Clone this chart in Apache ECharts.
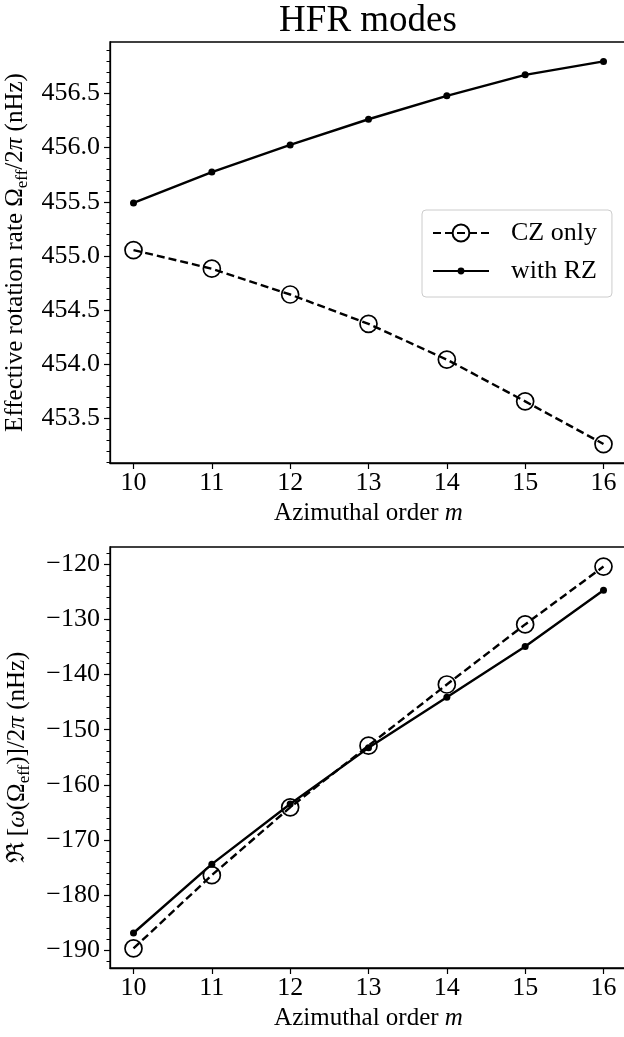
<!DOCTYPE html>
<html><head><meta charset="utf-8">
<script src="https://cdn.jsdelivr.net/npm/echarts@6/dist/echarts.min.js"></script>
<style>html,body{margin:0;padding:0;background:#fff}#c{width:624px;height:1037px}</style>
</head><body><div id="c"></div>
<script>
// ---- data ----
const mValues = [10, 11, 12, 13, 14, 15, 16];
const omegaCZ = [455.055, 454.883, 454.645, 454.374, 454.044, 453.659, 453.265];
const omegaRZ = [455.490, 455.775, 456.025, 456.262, 456.478, 456.672, 456.796];
const reCZ = [-189.7, -176.4, -164.1, -152.9, -141.8, -130.9, -120.4];
const reRZ = [-186.9, -174.4, -163.5, -153.3, -144.1, -134.9, -124.7];
const xTicks = [10, 11, 12, 13, 14, 15, 16];
const topTicks = [453.5, 454.0, 454.5, 455.0, 455.5, 456.0, 456.5];
const botTicks = [-190, -180, -170, -160, -150, -140, -130, -120];
const seriesNames = ['CZ only', 'with RZ'];
const titleText = 'HFR modes';

// ---- helpers ----
const FONT = 'Liberation Serif';
function minors(lo, hi, step, majors) {
  const out = [];
  const n0 = Math.ceil(lo / step - 1e-9), n1 = Math.floor(hi / step + 1e-9);
  for (let k = n0; k <= n1; k++) {
    const v = +(k * step).toFixed(6);
    if (!majors.some(t => Math.abs(t - v) < 1e-6)) out.push(v);
  }
  return out;
}
const pairs = (xs, ys) => xs.map((x, i) => [x, ys[i]]);
const topRange = [453.09, 456.975];
const botRange = [-193.25, -116.85];
const xRange = [9.7, 16.3];
const topMinor = minors(topRange[0], topRange[1], 0.1, topTicks);
const botMinor = minors(botRange[0], botRange[1], 2, botTicks);

const NAME_FS = 25;
const YNAME_FS = 25;
function richFor(fs) {
  return {
    n: {fontFamily: FONT, fontSize: fs, color: '#000'},
    i: {fontFamily: FONT, fontSize: fs, fontStyle: 'italic', color: '#000'},
    s: {fontFamily: FONT, fontSize: Math.round(fs * 0.66), color: '#000', padding: [Math.round(fs * 0.56), 0, 0, 0]}
  };
}
const minus = v => (v < 0 ? '\u2212' : '') + Math.abs(v);
const TICK_FS = 26;

function xAxis(gi) {
  return {
    type: 'value', gridIndex: gi, min: xRange[0], max: xRange[1],
    name: '{n|Azimuthal order }{i|m}', nameLocation: 'middle', nameGap: 38,
    nameTextStyle: {rich: richFor(NAME_FS)},
    axisLine: {show: true, lineStyle: {color: '#000', width: 1.3}},
    axisTick: {show: true, inside: false, length: 6, lineStyle: {color: '#000', width: 1.2}, customValues: xTicks},
    axisLabel: {show: true, margin: 7, fontFamily: FONT, fontSize: TICK_FS, color: '#000', customValues: xTicks},
    splitLine: {show: false}
  };
}
function yMain(gi, range, ticks, fmt, name) {
  return {
    type: 'value', gridIndex: gi, min: range[0], max: range[1], position: 'left',
    name: name, nameLocation: 'middle', nameRotate: 90, nameGap: 77,
    nameTextStyle: {rich: richFor(YNAME_FS)},
    axisLine: {show: true, lineStyle: {color: '#000', width: 1.3}},
    axisTick: {show: true, inside: false, length: 6, lineStyle: {color: '#000', width: 1.2}, customValues: ticks},
    axisLabel: {show: true, margin: 10, fontFamily: FONT, fontSize: TICK_FS, color: '#000', customValues: ticks, formatter: fmt},
    splitLine: {show: false}
  };
}
function yMinor(gi, range, vals) {
  return {
    type: 'value', gridIndex: gi, min: range[0], max: range[1], position: 'left', offset: 0,
    axisLine: {show: false},
    axisTick: {show: true, inside: false, length: 3.5, lineStyle: {color: '#000', width: 1}, customValues: vals},
    axisLabel: {show: false},
    splitLine: {show: false}
  };
}
function czSeries(xi, yi, ys) {
  return {
    name: seriesNames[0], type: 'line', xAxisIndex: xi, yAxisIndex: yi,
    data: pairs(mValues, ys), symbol: 'circle', symbolSize: 17,
    lineStyle: {color: '#000', width: 2.4, type: [8, 4]},
    itemStyle: {color: 'rgba(255,255,255,0)', borderColor: '#000', borderWidth: 1.7},
    emphasis: {disabled: true}, animation: false, z: 3
  };
}
function rzSeries(xi, yi, ys) {
  return {
    name: seriesNames[1], type: 'line', xAxisIndex: xi, yAxisIndex: yi,
    data: pairs(mValues, ys), symbol: 'circle', symbolSize: 7,
    lineStyle: {color: '#000', width: 2.4, type: 'solid'},
    itemStyle: {color: '#000', borderWidth: 0},
    emphasis: {disabled: true}, animation: false, z: 2
  };
}
function grid(top) {
  return {left: 110, top: top, width: 517, height: 421, show: true, borderColor: '#000', borderWidth: 1.3,
    backgroundColor: 'transparent', containLabel: false, outerBoundsMode: 'none'};
}

const chart = echarts.init(document.getElementById('c'), null, {renderer: 'canvas'});
chart.setOption({
  animation: false,
  backgroundColor: '#fff',
  title: {
    text: titleText, left: 368, textAlign: 'center', top: 0, padding: [3, 0, 0, 0],
    textStyle: {fontFamily: FONT, fontSize: 37, fontWeight: 'normal', color: '#000'}
  },
  grid: [grid(42), grid(547)],
  xAxis: [xAxis(0), xAxis(1)],
  yAxis: [
    yMain(0, topRange, topTicks, v => v.toFixed(1), '{n|Effective rotation rate Ω}{s|eff}{n|/2}{i|π}{n| (nHz)}'),
    yMain(1, botRange, botTicks, minus, '{n|ℜ [}{i|ω}{n|(Ω}{s|eff}{n|)]/2}{i|π}{n| (nHz)}'),
    yMinor(0, topRange, topMinor),
    yMinor(1, botRange, botMinor)
  ],
  legend: [
    {
      data: [seriesNames[0]], left: 422, top: 210, orient: 'vertical',
      itemWidth: 56, itemHeight: 21, padding: [10, 15, 51, 10],
      backgroundColor: 'rgba(255,255,255,0.8)', borderColor: '#cccccc', borderWidth: 1, borderRadius: 4,
      textStyle: {fontFamily: FONT, fontSize: 26, color: '#000', padding: [0, 0, 0, 17]},
      selectedMode: false
    },
    {
      data: [seriesNames[1]], left: 422, top: 258, orient: 'vertical',
      itemWidth: 56, itemHeight: 8.5, padding: [0, 0, 0, 10],
      textStyle: {fontFamily: FONT, fontSize: 26, color: '#000', padding: [0, 0, 0, 17]},
      selectedMode: false
    }
  ],
  series: [
    czSeries(0, 0, omegaCZ), rzSeries(0, 0, omegaRZ),
    czSeries(1, 1, reCZ), rzSeries(1, 1, reRZ)
  ]
});
</script></body></html>
